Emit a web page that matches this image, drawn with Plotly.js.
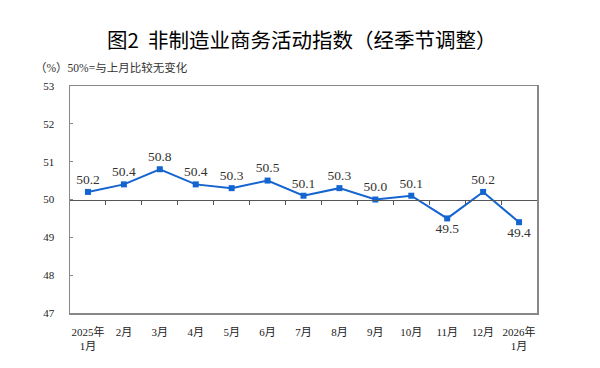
<!DOCTYPE html>
<html>
<head>
<meta charset="utf-8">
<script src="https://cdn.plot.ly/plotly-3.0.1.min.js"></script>
<style>html,body{margin:0;padding:0;background:#fff;}#chart{width:600px;height:368px;}</style>
</head>
<body>
<div id="chart"></div>
<script>
const categories = ["2025年<br>1月","2月","3月","4月","5月","6月","7月","8月","9月","10月","11月","12月","2026年<br>1月"];
const values = [50.2, 50.4, 50.8, 50.4, 50.3, 50.5, 50.1, 50.3, 50.0, 50.1, 49.5, 50.2, 49.4];
const labelPos = ["top center","top center","top center","top center","top center","top center","top center","top center","top center","top center","bottom center","top center","bottom center"];
const yTicks = [47, 48, 49, 50, 51, 52, 53];

const idx = categories.map((c, i) => i);
const boundaries = categories.slice(1).map((c, i) => i + 0.5);
const serif = "Liberation Serif, Times New Roman, Noto Sans CJK SC, serif";

const traces = [
  {
    x: idx, y: values, type: "scatter", mode: "lines+markers+text",
    line: {color: "#1565d0", width: 2},
    marker: {symbol: "square", size: 6, color: "#1565d0"},
    text: values.map(v => v.toFixed(1)),
    textposition: labelPos,
    textfont: {family: serif, size: 13.5, color: "#333"},
    cliponaxis: false,
    hoverinfo: "none", showlegend: false
  },
  {
    x: idx, y: values, xaxis: "x2", type: "scatter", mode: "none",
    hoverinfo: "none", showlegend: false
  }
];

const layout = {
  width: 600, height: 368,
  margin: {l: 70, r: 63, t: 86, b: 55},
  paper_bgcolor: "#fff", plot_bgcolor: "#fff",
  title: {
    text: "图2  非制造业商务活动指数（经季节调整）",
    font: {family: "Noto Sans CJK SC, sans-serif", size: 20.5, color: "#000"},
    x: 0.503, xanchor: "center", y: 0.89, yanchor: "middle"
  },
  xaxis: {
    range: [-0.5, 12.5], tickvals: idx, ticktext: categories,
    showline: true, mirror: true, linecolor: "#888", linewidth: 1.5,
    ticks: "", showgrid: false, zeroline: false, fixedrange: true,
    ticklabelstandoff: 8,
    tickfont: {family: serif, size: 11, color: "#222"}
  },
  xaxis2: {
    range: [-0.5, 12.5], overlaying: "x", anchor: "free", position: 0.5, side: "bottom",
    showline: true, linecolor: "#555", linewidth: 1,
    ticks: "outside", ticklen: 4, tickcolor: "#555", tickwidth: 1,
    tickvals: boundaries, showticklabels: false, showgrid: false, zeroline: false
  },
  yaxis: {
    range: [47, 53], tickvals: yTicks, ticktext: yTicks.map(String),
    showline: true, mirror: true, linecolor: "#888", linewidth: 1.5,
    ticks: "inside", ticklen: 3, tickcolor: "#888", tickwidth: 1,
    showgrid: false, zeroline: false, ticklabelstandoff: 12,
    tickfont: {family: serif, size: 11, color: "#222"}
  },
  annotations: [
    {
      text: "（%）50%=与上月比较无变化", xref: "paper", yref: "paper",
      x: -0.08, y: 1.08, xanchor: "left", yanchor: "middle", showarrow: false,
      font: {family: serif, size: 11.5, color: "#333"}
    }
  ]
};

Plotly.newPlot("chart", traces, layout, {displayModeBar: false, staticPlot: true});
</script>
</body>
</html>
